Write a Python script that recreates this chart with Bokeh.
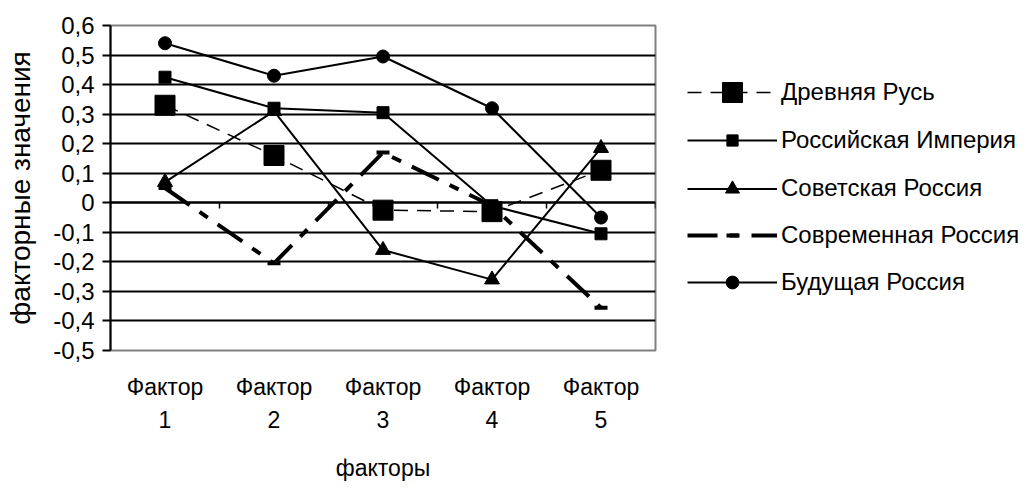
import numpy as np
from bokeh.plotting import figure
from bokeh.layouts import row
from bokeh.models import (Range1d, FixedTicker, LinearAxis, Legend, LegendItem,
                          CustomJSTickFormatter, Grid)
from bokeh.embed import file_html
from bokeh.resources import INLINE

# ---- data ----
factor_labels = ["Фактор\n1", "Фактор\n2", "Фактор\n3", "Фактор\n4", "Фактор\n5"]
y_ticks = [-0.5, -0.4, -0.3, -0.2, -0.1, 0.0, 0.1, 0.2, 0.3, 0.4, 0.5, 0.6]

drevnyaya = [0.33, 0.16, -0.025, -0.03, 0.11]
imperiya = [0.425, 0.32, 0.305, -0.01, -0.105]
sovetskaya = [0.07, 0.31, -0.16, -0.26, 0.185]
sovremennaya = [0.05, -0.205, 0.17, -0.01, -0.355]
budushchaya = [0.54, 0.43, 0.495, 0.32, -0.05]

series_names = ["Древняя Русь", "Российская Империя", "Советская Россия",
                "Современная Россия", "Будущая Россия"]

FONT = "Liberation Sans"
n = len(factor_labels)
xs = list(np.arange(n) + 0.5)

P_W = 657
p = figure(width=P_W, height=497, output_backend="svg", toolbar_location=None,
           x_range=Range1d(0, n), y_range=Range1d(y_ticks[0], y_ticks[-1]),
           min_border_left=110, min_border_right=2, min_border_top=25,
           min_border_bottom=147, x_axis_type=None, y_axis_type=None)
p.background_fill_color = "white"
p.border_fill_color = "white"
p.outline_line_color = "#808080"
p.outline_line_width = 2

# left axis
yax = LinearAxis(ticker=FixedTicker(ticks=y_ticks))
yax.formatter = CustomJSTickFormatter(code="""
if (Math.abs(tick) < 1e-9) { return '0'; }
return tick.toFixed(1).replace('.', ',');
""")
yax.axis_line_color = "black"
yax.axis_line_width = 2
yax.major_tick_line_width = 2
yax.major_tick_out = 8
yax.major_tick_in = 0
yax.minor_tick_line_color = None
yax.major_label_standoff = 8
yax.major_label_text_font = FONT
yax.major_label_text_font_size = "24px"
yax.major_label_text_color = "black"
yax.axis_label = "факторные значения"
yax.axis_label_text_font = FONT
yax.axis_label_text_font_size = "28px"
yax.axis_label_text_font_style = "normal"
yax.axis_label_text_color = "black"
yax.axis_label_standoff = 14
p.add_layout(yax, "left")

# bottom axis (labels only)
xax = LinearAxis(ticker=FixedTicker(ticks=xs))
xax.major_label_overrides = {float(x): lab for x, lab in zip(xs, factor_labels)}
xax.axis_line_color = None
xax.major_tick_line_color = None
xax.minor_tick_line_color = None
xax.major_label_standoff = 17
xax.major_label_text_font = FONT
xax.major_label_text_font_size = "23px"
xax.major_label_text_line_height = 1.3
xax.major_label_text_color = "black"
xax.axis_label = "факторы"
xax.axis_label_text_font = FONT
xax.axis_label_text_font_size = "23px"
xax.axis_label_text_font_style = "normal"
xax.axis_label_text_color = "black"
xax.axis_label_standoff = 19
p.add_layout(xax, "below")

# category axis crossing at zero (ticks between categories)
zax = LinearAxis(ticker=FixedTicker(ticks=list(range(n + 1))), fixed_location=0)
zax.formatter = CustomJSTickFormatter(code="return '';")
zax.axis_line_color = "black"
zax.axis_line_width = 2
zax.major_tick_in = 6
zax.major_tick_out = 0
zax.major_tick_line_width = 1.5
zax.minor_tick_line_color = None
zax.major_label_standoff = 0
p.add_layout(zax, "above")

# horizontal grid
grid = Grid(dimension=1, ticker=FixedTicker(ticks=y_ticks), grid_line_color="black",
            grid_line_width=2)
p.add_layout(grid, "center")

# legend panel (separate figure to the right; its ranges keep the series out of view)
L_W = 1027 - P_W
q = figure(width=L_W, height=497, output_backend="svg", toolbar_location=None,
           x_range=Range1d(-20, -19), y_range=Range1d(-20, -19), x_axis_type=None,
           y_axis_type=None, min_border=0)
q.outline_line_color = None
q.background_fill_color = "white"
q.border_fill_color = "white"

# series
styles = [
    dict(data=drevnyaya, dash="14 9", lw=1.5, marker="square", size=20, lsize=50),
    dict(data=imperiya, dash="solid", lw=2, marker="square", size=12, lsize=28),
    dict(data=sovetskaya, dash="solid", lw=2, marker="triangle", size=15, lsize=35),
    dict(data=sovremennaya, dash="30 12 10 12", lw=4, marker="dash", size=13, lsize=30),
    dict(data=budushchaya, dash="solid", lw=2, marker="circle", size=13, lsize=32),
]


def draw(fig, x, y, st):
    lr = fig.line(x, y, line_color="black", line_width=st["lw"], line_dash=st["dash"])
    if st["marker"] == "dash":
        mr = fig.scatter(x, y, marker="dash", size=st["size"], line_color="black",
                         line_width=4)
    else:
        mr = fig.scatter(x, y, marker=st["marker"], size=st["size"],
                         fill_color="black", line_color="black")
    return lr, mr


row_centers = [92, 140, 188, 235, 282]
frame_bottom = 350
glyph_left = 687 - P_W
for name, st, cy in zip(series_names, styles, row_centers):
    draw(p, xs, st["data"], st)
    lr, mr = draw(q, xs, st["data"], st)
    h = st["lsize"]
    leg = Legend(items=[LegendItem(label=name, renderers=[lr, mr])],
                 location=(glyph_left, frame_bottom - (cy + h / 2)),
                 glyph_width=90, glyph_height=h, label_height=h,
                 label_standoff=4, padding=0, margin=0, spacing=0,
                 border_line_color=None, background_fill_alpha=0,
                 label_text_font=FONT, label_text_font_size="24px",
                 label_text_color="black")
    q.add_layout(leg, "center")

layout = row(p, q)
open("out.html", "w").write(file_html(layout, INLINE))
